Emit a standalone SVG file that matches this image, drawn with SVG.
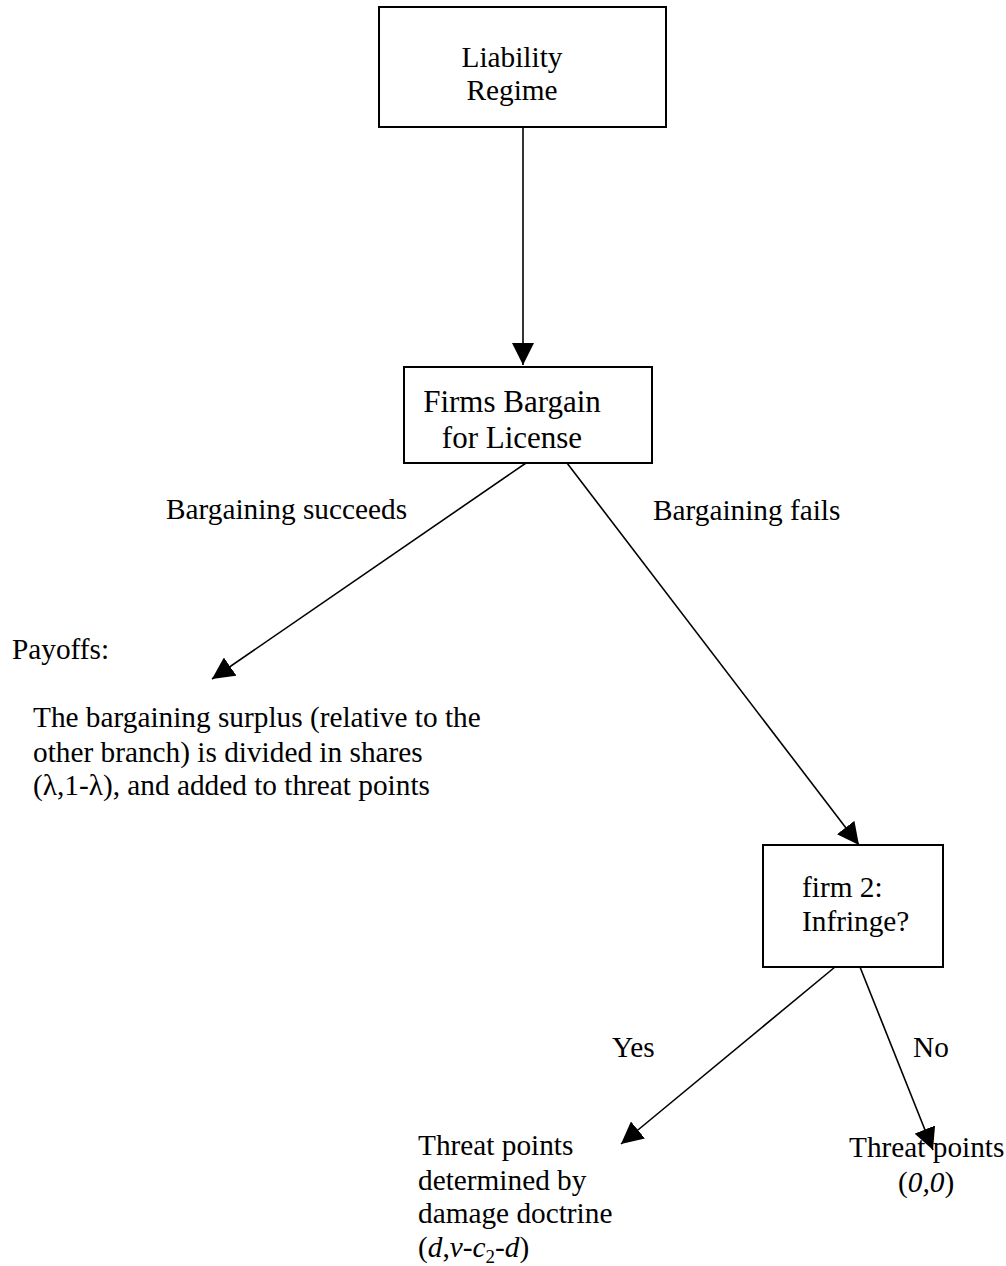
<svg xmlns="http://www.w3.org/2000/svg" width="1006" height="1266" viewBox="0 0 1006 1266" font-family="'Liberation Serif', 'Times New Roman', Tinos, 'DejaVu Serif', serif">
<defs>
<style>
text{font-family:'Liberation Serif', 'Times New Roman', Tinos, 'DejaVu Serif', serif;font-size:29.3px;fill:#000}
.box{fill:#fff;stroke:#000;stroke-width:2}
.c{fill:none;stroke:#000;stroke-width:1.6}
.m{text-anchor:middle}
.i{font-style:italic}
</style>
<marker id="ah" markerUnits="userSpaceOnUse" markerWidth="22" markerHeight="22" refX="20" refY="10" orient="auto" viewBox="0 0 20 20">
<path d="M0,0 L20,10 L0,20 z" fill="#000"/>
</marker>
</defs>
<rect width="1006" height="1266" fill="#fff"/>
<g id="connectors">
<line class="c" x1="523" y1="127" x2="523" y2="365" marker-end="url(#ah)"/>
<line class="c" x1="526" y1="463" x2="212" y2="679" marker-end="url(#ah)"/>
<line class="c" x1="567" y1="463" x2="859" y2="845" marker-end="url(#ah)"/>
<line class="c" x1="835" y1="967" x2="621" y2="1144" marker-end="url(#ah)"/>
<line class="c" x1="860" y1="967" x2="933" y2="1150" marker-end="url(#ah)"/>
</g>
<g id="liability-regime">
<rect class="box" x="379" y="7" width="287" height="120"/>
<text class="m" x="512" y="67">Liability</text>
<text class="m" x="512" y="100">Regime</text>
</g>
<g id="firms-bargain">
<rect class="box" x="404" y="367" width="248" height="96"/>
<text class="m" x="512" y="412" style="font-size:31px">Firms Bargain</text>
<text class="m" x="512" y="448" style="font-size:31px">for License</text>
</g>
<g id="label-succeeds"><text x="166" y="519">Bargaining succeeds</text></g>
<g id="label-fails"><text x="653" y="520">Bargaining fails</text></g>
<g id="payoffs">
<text x="12" y="659">Payoffs:</text>
<text x="33" y="727">The bargaining surplus (relative to the</text>
<text x="33" y="762">other branch) is divided in shares</text>
<text x="33" y="795">(λ,1-λ), and added to threat points</text>
</g>
<g id="firm2-infringe">
<rect class="box" x="763" y="845" width="180" height="122"/>
<text x="802" y="897">firm 2:</text>
<text x="802" y="931">Infringe?</text>
</g>
<g id="label-yes"><text x="612" y="1057">Yes</text></g>
<g id="label-no"><text x="913" y="1057">No</text></g>
<g id="threat-damage">
<text x="418" y="1155">Threat points</text>
<text x="418" y="1190">determined by</text>
<text x="418" y="1223">damage doctrine</text>
<text x="418" y="1257">(<tspan class="i">d</tspan>,<tspan class="i">v</tspan>-<tspan class="i">c</tspan><tspan style="font-size:19px" dy="6">2</tspan><tspan dy="-6">-</tspan><tspan class="i">d</tspan>)</text>
</g>
<g id="threat-zero">
<text x="849" y="1157">Threat points</text>
<text x="898" y="1192">(<tspan class="i">0,0</tspan>)</text>
</g>
</svg>
